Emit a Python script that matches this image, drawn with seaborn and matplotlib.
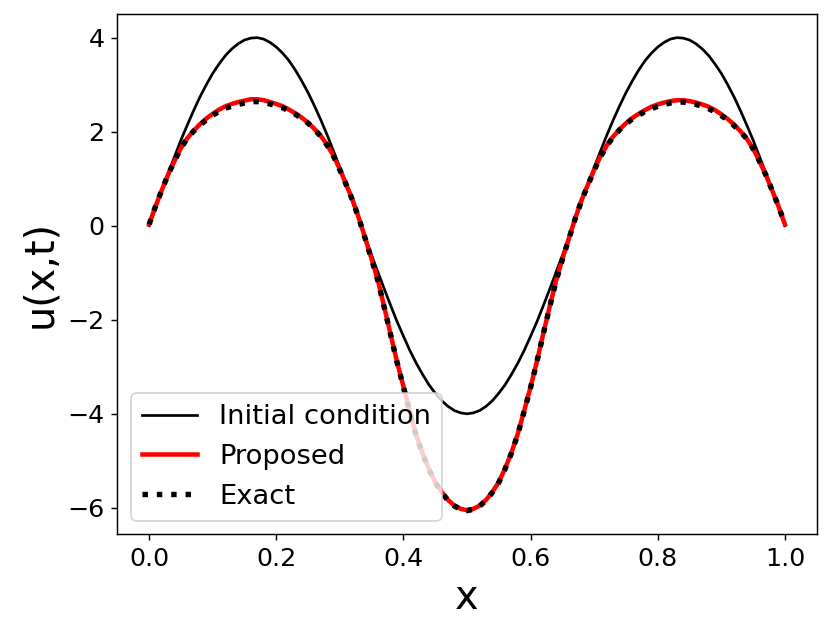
import numpy as np
import pandas as pd
import matplotlib
matplotlib.use("Agg")
import matplotlib.pyplot as plt
import seaborn as sns

# =========================
# DATA
# =========================

x_vals = [0.00, 0.01, 0.02, 0.03, 0.04, 0.05, 0.06, 0.07, 0.08, 0.09,
          0.10, 0.11, 0.12, 0.13, 0.14, 0.15, 0.16, 0.17, 0.18, 0.19,
          0.20, 0.21, 0.22, 0.23, 0.24, 0.25, 0.26, 0.27, 0.28, 0.29,
          0.30, 0.31, 0.32, 0.33, 0.34, 0.35, 0.36, 0.37, 0.38, 0.39,
          0.40, 0.41, 0.42, 0.43, 0.44, 0.45, 0.46, 0.47, 0.48, 0.49,
          0.50, 0.51, 0.52, 0.53, 0.54, 0.55, 0.56, 0.57, 0.58, 0.59,
          0.60, 0.61, 0.62, 0.63, 0.64, 0.65, 0.66, 0.67, 0.68, 0.69,
          0.70, 0.71, 0.72, 0.73, 0.74, 0.75, 0.76, 0.77, 0.78, 0.79,
          0.80, 0.81, 0.82, 0.83, 0.84, 0.85, 0.86, 0.87, 0.88, 0.89,
          0.90, 0.91, 0.92, 0.93, 0.94, 0.95, 0.96, 0.97, 0.98, 0.99,
          1.00]

initial_u = [0.00, 0.38, 0.75, 1.12, 1.47, 1.82, 2.14, 2.45, 2.74, 3.00,
             3.24, 3.44, 3.62, 3.76, 3.87, 3.95, 3.99, 4.00, 3.97, 3.90,
             3.80, 3.67, 3.51, 3.31, 3.08, 2.83, 2.55, 2.25, 1.93, 1.59,
             1.24, 0.87, 0.50, 0.13, -0.25, -0.63, -0.99, -1.35, -1.70, -2.04,
             -2.35, -2.65, -2.92, -3.16, -3.38, -3.56, -3.72, -3.84, -3.93, -3.98,
             -4.00, -3.98, -3.93, -3.84, -3.72, -3.56, -3.38, -3.16, -2.92, -2.65,
             -2.35, -2.04, -1.70, -1.35, -0.99, -0.63, -0.25, 0.13, 0.50, 0.87,
             1.24, 1.59, 1.93, 2.25, 2.55, 2.83, 3.08, 3.31, 3.51, 3.67,
             3.80, 3.90, 3.97, 4.00, 3.99, 3.95, 3.87, 3.76, 3.62, 3.44,
             3.24, 3.00, 2.74, 2.45, 2.14, 1.82, 1.47, 1.12, 0.75, 0.38,
             0.00]

proposed_u = [0.03, 0.41, 0.76, 1.09, 1.38, 1.65, 1.86, 2.02, 2.16, 2.28,
              2.38, 2.47, 2.54, 2.59, 2.63, 2.66, 2.69, 2.69, 2.67, 2.63,
              2.59, 2.54, 2.47, 2.39, 2.30, 2.19, 2.06, 1.91, 1.72, 1.49,
              1.20, 0.88, 0.55, 0.16, -0.27, -0.71, -1.17, -1.74, -2.32, -2.90,
              -3.42, -3.95, -4.45, -4.84, -5.17, -5.45, -5.66, -5.83, -5.95, -6.02,
              -6.05, -6.02, -5.95, -5.83, -5.66, -5.45, -5.16, -4.82, -4.42, -3.93,
              -3.43, -2.88, -2.29, -1.72, -1.17, -0.71, -0.28, 0.15, 0.54, 0.87,
              1.19, 1.48, 1.71, 1.90, 2.05, 2.18, 2.29, 2.38, 2.46, 2.53,
              2.58, 2.62, 2.65, 2.67, 2.67, 2.65, 2.62, 2.58, 2.53, 2.46,
              2.37, 2.27, 2.15, 2.01, 1.85, 1.64, 1.37, 1.08, 0.75, 0.41,
              0.03]

exact_u = [0.03, 0.41, 0.76, 1.09, 1.38, 1.65, 1.86, 2.01, 2.14, 2.25,
           2.35, 2.43, 2.50, 2.54, 2.58, 2.61, 2.64, 2.64, 2.62, 2.59,
           2.55, 2.51, 2.44, 2.37, 2.28, 2.18, 2.05, 1.90, 1.71, 1.48,
           1.19, 0.87, 0.54, 0.15, -0.28, -0.72, -1.18, -1.75, -2.33, -2.91,
           -3.43, -3.96, -4.46, -4.85, -5.18, -5.46, -5.67, -5.84, -5.96, -6.03,
           -6.06, -6.03, -5.96, -5.84, -5.67, -5.46, -5.17, -4.83, -4.43, -3.94,
           -3.44, -2.89, -2.30, -1.73, -1.18, -0.72, -0.29, 0.14, 0.53, 0.86,
           1.18, 1.47, 1.70, 1.89, 2.04, 2.17, 2.27, 2.35, 2.43, 2.49,
           2.54, 2.58, 2.61, 2.63, 2.63, 2.61, 2.58, 2.54, 2.49, 2.42,
           2.34, 2.25, 2.13, 2.00, 1.85, 1.64, 1.37, 1.08, 0.75, 0.41,
           0.03]

df = pd.DataFrame({
    "x": x_vals,
    "initial": initial_u,
    "proposed": proposed_u,
    "exact": exact_u,
})

# =========================
# PLOT
# =========================

fig = plt.figure(figsize=(831 / 130, 639 / 130), dpi=130)
ax = fig.add_axes([0.1412, 0.1638, 0.8416, 0.8143])

sns.lineplot(data=df, x="x", y="initial", ax=ax, color="black",
             linewidth=1.5, label="Initial condition")
sns.lineplot(data=df, x="x", y="proposed", ax=ax, color="red",
             linewidth=2.5, label="Proposed")
sns.lineplot(data=df, x="x", y="exact", ax=ax, color="black",
             linewidth=3, linestyle=":", label="Exact")

ax.set_xlabel("x", fontsize=22)
ax.set_ylabel("u(x,t)", fontsize=22)
ax.tick_params(labelsize=14)
ax.set_xticks([0.0, 0.2, 0.4, 0.6, 0.8, 1.0])
ax.set_yticks([-6, -4, -2, 0, 2, 4])

ax.legend(loc="lower left", fontsize=15.2)

fig.savefig("out.png", dpi=130)
